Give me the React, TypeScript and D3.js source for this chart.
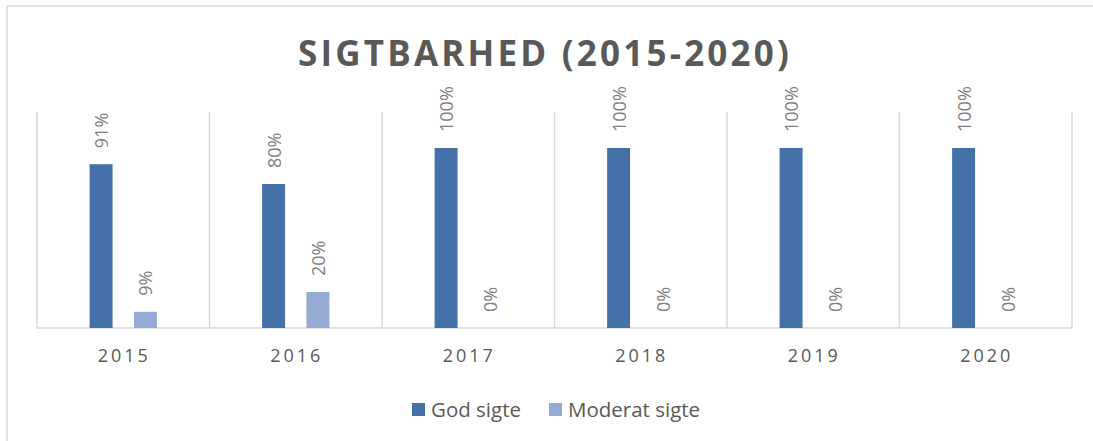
import React, { useEffect, useRef } from 'react'
import * as d3 from 'd3'

const years = ['2015', '2016', '2017', '2018', '2019', '2020']
const seriesNames = ['God sigte', 'Moderat sigte']
const godSigte = [0.91, 0.8, 1, 1, 1, 1]
const moderatSigte = [0.09, 0.2, 0, 0, 0, 0]
const colors = ['#4472a8', '#94aad2']
const title = 'SIGTBARHED (2015-2020)'

const W = 1093
const H = 441
const font = '"Open Sans", "Liberation Sans", sans-serif'

export default function App() {
  const ref = useRef<SVGSVGElement>(null)

  useEffect(() => {
    const svg = d3.select(ref.current)
    svg.selectAll('*').remove()

    const left = 37, right = 1072, top = 112, bottom = 328

    // outer frame (only top/left edges visible)
    svg.append('rect')
      .attr('x', 7).attr('y', 6)
      .attr('width', W + 20).attr('height', H + 20)
      .attr('fill', 'white').attr('stroke', '#d9d9d9').attr('stroke-width', 1.5)

    svg.append('text')
      .attr('x', 545).attr('y', 66)
      .attr('text-anchor', 'middle')
      .attr('font-family', font).attr('font-weight', 700)
      .attr('font-size', 35).attr('letter-spacing', 3.2)
      .attr('fill', '#595959')
      .text(title)

    const x = d3.scaleBand().domain(years).range([left, right]).padding(0)
    const xs = d3.scaleBand().domain(seriesNames).range([0, x.bandwidth()])
      .paddingInner(0.482).paddingOuter(1.187)
    const y = d3.scaleLinear().domain([0, 1.2]).range([bottom, top])

    // vertical gridlines at category edges
    const edges = years.map(d => x(d)!).concat([right])
    svg.append('g').selectAll('line').data(edges).enter().append('line')
      .attr('x1', d => d).attr('x2', d => d)
      .attr('y1', top).attr('y2', bottom)
      .attr('stroke', '#d9d9d9').attr('stroke-width', 1.5)

    svg.append('line')
      .attr('x1', left).attr('x2', right).attr('y1', bottom).attr('y2', bottom)
      .attr('stroke', '#d9d9d9').attr('stroke-width', 1.5)

    const rows = years.map((yr, i) => ({ yr, vals: [godSigte[i], moderatSigte[i]] }))

    const g = svg.append('g').selectAll('g').data(rows).enter().append('g')
      .attr('transform', d => `translate(${x(d.yr)},0)`)

    const cells = g.selectAll('g').data(d => d.vals.map((v, j) => ({ v, s: seriesNames[j], j })))
      .enter().append('g')

    cells.append('rect')
      .attr('x', d => xs(d.s)!)
      .attr('y', d => y(d.v))
      .attr('width', xs.bandwidth())
      .attr('height', d => bottom - y(d.v))
      .attr('fill', d => colors[d.j])

    cells.append('text')
      .attr('transform', d => `translate(${xs(d.s)! + xs.bandwidth() / 2 + 7},${y(d.v) - 16}) rotate(-90)`)
      .attr('font-family', font).attr('font-size', 18)
      .attr('fill', '#7f7f7f')
      .text(d => `${Math.round(d.v * 100)}%`)

    svg.append('g').selectAll('text').data(years).enter().append('text')
      .attr('x', d => x(d)! + x.bandwidth() / 2 + 1)
      .attr('y', 362)
      .attr('text-anchor', 'middle')
      .attr('font-family', font).attr('font-size', 18).attr('letter-spacing', 3)
      .attr('fill', '#595959')
      .text(d => d)

    // legend
    let lx = 412
    seriesNames.forEach((name, i) => {
      svg.append('rect').attr('x', lx).attr('y', 403).attr('width', 13).attr('height', 13)
        .attr('fill', colors[i])
      const t = svg.append('text').attr('x', lx + 19).attr('y', 417)
        .attr('font-family', font).attr('font-size', 20.5).attr('fill', '#595959')
        .text(name)
      const w = (t.node() as SVGTextElement).getComputedTextLength()
      lx += 19 + w + 28
    })
  }, [])

  return <svg ref={ref} width={W} height={H} style={{ position: 'absolute', left: 0, top: 0 }} />
}
